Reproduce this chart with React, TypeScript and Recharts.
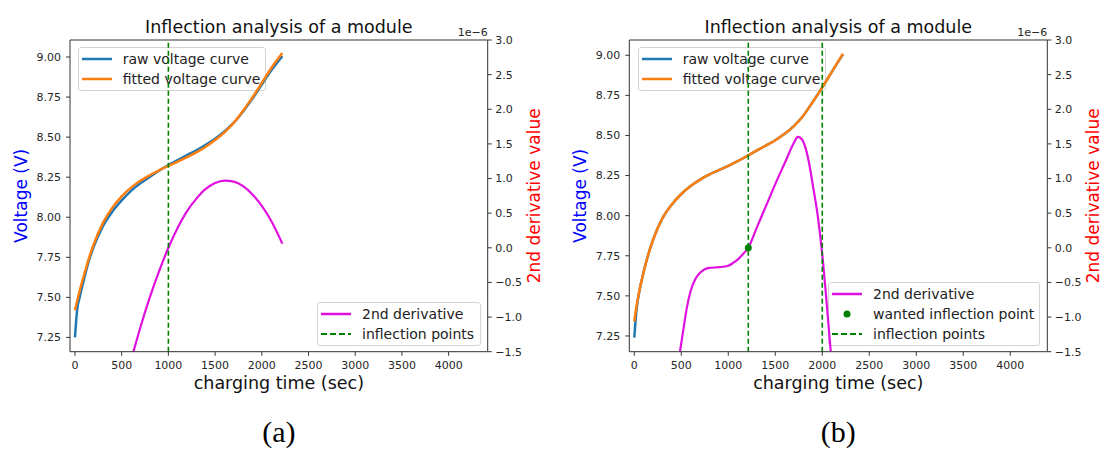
import { ComposedChart, Line, Scatter, XAxis, YAxis, ReferenceLine } from 'recharts';

// time grid (sec) shared by the voltage curves
const timeGrid = [0, 25, 50, 100, 150, 200, 300, 400, 500, 600, 700, 800, 900, 1000, 1100, 1200, 1300, 1400, 1500, 1600, 1700, 1800, 1900, 2000, 2100, 2220];

// panel (a)
const rawVoltageA = [7.25, 7.43, 7.5, 7.62, 7.73, 7.815, 7.945, 8.035, 8.105, 8.165, 8.212, 8.252, 8.29, 8.325, 8.357, 8.388, 8.418, 8.452, 8.49, 8.535, 8.59, 8.66, 8.74, 8.828, 8.915, 9.005];
const fitVoltageA = [7.42, 7.48, 7.54, 7.645, 7.745, 7.83, 7.965, 8.06, 8.13, 8.185, 8.228, 8.262, 8.292, 8.32, 8.347, 8.375, 8.405, 8.44, 8.482, 8.53, 8.59, 8.665, 8.748, 8.838, 8.93, 9.025];
const d2TimeA = [620, 700, 800, 900, 1000, 1100, 1200, 1300, 1400, 1500, 1600, 1700, 1800, 1900, 2000, 2100, 2220];
const d2ValueA = [-1.53, -1.15, -0.72, -0.34, 0.0, 0.29, 0.53, 0.71, 0.85, 0.935, 0.97, 0.955, 0.89, 0.77, 0.605, 0.39, 0.06]; // x 1e-6
const inflectionA = [1000];

// panel (b)
const rawVoltageB = [7.24, 7.42, 7.515, 7.65, 7.76, 7.85, 7.985, 8.07, 8.135, 8.185, 8.225, 8.257, 8.284, 8.31, 8.34, 8.372, 8.405, 8.437, 8.47, 8.51, 8.56, 8.625, 8.71, 8.8, 8.895, 9.005];
const fitVoltageB = [7.34, 7.44, 7.52, 7.65, 7.76, 7.85, 7.985, 8.07, 8.135, 8.185, 8.225, 8.257, 8.284, 8.31, 8.34, 8.372, 8.405, 8.437, 8.47, 8.51, 8.56, 8.625, 8.71, 8.8, 8.895, 9.01];
const d2TimeB = [486, 520, 560, 600, 650, 700, 750, 800, 900, 1000, 1050, 1100, 1150, 1213, 1300, 1400, 1500, 1600, 1700, 1740, 1780, 1820, 1860, 1900, 1950, 2000, 2050, 2090];
const d2ValueB = [-1.5, -1.2, -0.86, -0.62, -0.45, -0.36, -0.31, -0.29, -0.28, -0.26, -0.22, -0.17, -0.1, 0, 0.28, 0.6, 0.92, 1.22, 1.52, 1.6, 1.57, 1.45, 1.22, 0.9, 0.48, -0.1, -0.85, -1.5];
const inflectionB = [1213, 2000];
const wantedTimeB = [1213];
const wantedValueB = [0];

const xTicks = [0, 500, 1000, 1500, 2000, 2500, 3000, 3500, 4000];
const voltTicks = [7.25, 7.5, 7.75, 8, 8.25, 8.5, 8.75, 9];
const d2Ticks = [-1.5, -1, -0.5, 0, 0.5, 1, 1.5, 2, 2.5, 3];

const FONT = '"DejaVu Sans", sans-serif';
const AXIS = '#333';
const TICK = '#262626';
const BLUE = '#1f77b4';
const ORANGE = '#ff7f0e';
const MAGENTA = '#e010e0';
const GREEN = '#008000';

const zip = (ts: number[], vs: number[]) => ts.map((t, i) => ({ t, v: vs[i] }));

type LegendItem = { label: string; kind: 'line' | 'dash' | 'dot'; color: string };

const LegendBox = ({ x, y, width, items }: { x: number; y: number; width: number; items: LegendItem[] }) => (
  <div
    style={{
      position: 'absolute',
      left: x,
      top: y,
      width,
      boxSizing: 'border-box',
      padding: '1px 0 1px 3px',
      border: '1px solid #d4d4d4',
      borderRadius: 3,
      background: 'rgba(255,255,255,0.8)',
      fontFamily: FONT,
      fontSize: 14,
      color: '#222',
    }}
  >
    {items.map((it) => (
      <div key={it.label} style={{ display: 'flex', alignItems: 'center', height: 20, whiteSpace: 'nowrap' }}>
        <svg width={30} height={10} style={{ marginRight: 11 }}>
          {it.kind === 'dot' ? (
            <circle cx={15} cy={5} r={3.5} fill={it.color} />
          ) : (
            <line x1={0} x2={30} y1={5} y2={5} stroke={it.color} strokeWidth={it.kind === 'dash' ? 1.8 : 2.5} strokeDasharray={it.kind === 'dash' ? '6 3' : undefined} />
          )}
        </svg>
        <span>{it.label}</span>
      </div>
    ))}
  </div>
);

const upperItems: LegendItem[] = [
  { label: 'raw voltage curve', kind: 'line', color: BLUE },
  { label: 'fitted voltage curve', kind: 'line', color: ORANGE },
];
const lowerItemsA: LegendItem[] = [
  { label: '2nd derivative', kind: 'line', color: MAGENTA },
  { label: 'inflection points', kind: 'dash', color: GREEN },
];
const lowerItemsB: LegendItem[] = [
  { label: '2nd derivative', kind: 'line', color: MAGENTA },
  { label: 'wanted inflection point', kind: 'dot', color: GREEN },
  { label: 'inflection points', kind: 'dash', color: GREEN },
];

interface PanelProps {
  left: number;
  width: number;
  plotLeft: number;
  plotRight: number;
  xDomain: [number, number];
  vDomain: [number, number];
  raw: { t: number; v: number }[];
  fit: { t: number; v: number }[];
  d2: { t: number; v: number }[];
  inflections: number[];
  wanted?: { t: number; v: number }[];
  letter: string;
  lower: { x: number; y: number; width: number; items: LegendItem[] };
}

const Panel = ({ left, width, plotLeft, plotRight, xDomain, vDomain, raw, fit, d2, inflections, wanted, letter, lower }: PanelProps) => {
  const center = (plotLeft + plotRight) / 2;
  const tickStyle = { fill: TICK, fontSize: 11, fontFamily: FONT };
  return (
    <div style={{ position: 'absolute', left, top: 0, width, height: 450 }}>
      <LegendBox x={77.7} y={46.7} width={188} items={upperItems} />
      <LegendBox {...lower} />
      <div style={{ position: 'absolute', left: 0, top: 0 }}>
        <ComposedChart
          width={width}
          height={400}
          margin={{ top: 40, left: plotLeft - 60, right: width - plotRight - 55, bottom: 8.3 }}
        >
          <XAxis
            type="number"
            dataKey="t"
            domain={xDomain}
            ticks={xTicks}
            allowDataOverflow
            height={40}
            tickSize={4}
            tickMargin={5}
            axisLine={{ stroke: AXIS }}
            tickLine={{ stroke: AXIS }}
            tick={tickStyle}
            label={{ value: 'charging time (sec)', position: 'insideBottom', offset: 2.7, style: { fontSize: 17.5, fontFamily: FONT, fill: '#111' } }}
          />
          <YAxis
            yAxisId="v"
            type="number"
            domain={vDomain}
            ticks={voltTicks}
            allowDataOverflow
            width={60}
            tickSize={4}
            tickMargin={5}
            axisLine={{ stroke: AXIS }}
            tickLine={{ stroke: AXIS }}
            tick={tickStyle}
            tickFormatter={(v: number) => v.toFixed(2)}
            label={{ value: 'Voltage (V)', angle: -90, position: 'insideLeft', offset: 10.5, style: { textAnchor: 'middle', fontSize: 17, fontFamily: FONT, fill: '#0000ff' } }}
          />
          <YAxis
            yAxisId="d"
            orientation="right"
            type="number"
            domain={[-1.5, 3]}
            ticks={d2Ticks}
            allowDataOverflow
            width={55}
            tickSize={4}
            tickMargin={3.5}
            axisLine={{ stroke: AXIS }}
            tickLine={{ stroke: AXIS }}
            tick={tickStyle}
            tickFormatter={(v: number) => (v < 0 ? '\u2212' : '') + Math.abs(v).toFixed(1)}
            label={{ value: '2nd derivative value', angle: -90, position: 'insideRight', offset: 9, style: { textAnchor: 'middle', fontSize: 17, fontFamily: FONT, fill: '#ff0000' } }}
          />
          <ReferenceLine yAxisId="d" y={3} stroke={AXIS} />
          <Line yAxisId="v" data={raw} dataKey="v" type="monotone" stroke={BLUE} strokeWidth={2.5} dot={false} isAnimationActive={false} />
          <Line yAxisId="v" data={fit} dataKey="v" type="monotone" stroke={ORANGE} strokeWidth={2.5} dot={false} isAnimationActive={false} />
          <Line yAxisId="d" data={d2} dataKey="v" type="monotone" stroke={MAGENTA} strokeWidth={2.2} dot={false} isAnimationActive={false} />
          {inflections.map((x) => (
            <ReferenceLine key={x} yAxisId="d" x={x} stroke={GREEN} strokeWidth={1.6} strokeDasharray="5 3" />
          ))}
          {wanted && (
            <Scatter
              yAxisId="d"
              data={wanted}
              dataKey="v"
              isAnimationActive={false}
              shape={(p: any) => <circle cx={p.cx} cy={p.cy} r={3.5} fill={GREEN} />}
            />
          )}
        </ComposedChart>
      </div>
      <svg width={width} height={450} style={{ position: 'absolute', left: 0, top: 0, pointerEvents: 'none' }}>
        <text x={center} y={33.3} textAnchor="middle" fontFamily={FONT} fontSize={17.5} fill="#111">
          Inflection analysis of a module
        </text>
        <text x={plotRight} y={36} textAnchor="end" fontFamily={FONT} fontSize={11} fill={TICK}>
          1e{'\u2212'}6
        </text>
        <text x={center} y={442} textAnchor="middle" fontFamily='"Liberation Serif", "Times New Roman", serif' fontSize={30} fill="#000">
          {letter}
        </text>
      </svg>
    </div>
  );
};

export default function App() {
  return (
    <div style={{ position: 'absolute', left: 0, top: 0, width: 1105, height: 450, overflow: 'hidden', background: '#fff' }}>
      <Panel
        left={0}
        width={552}
        plotLeft={70}
        plotRight={487.7}
        xDomain={[-53, 4418]}
        vDomain={[7.161, 9.106]}
        raw={zip(timeGrid, rawVoltageA)}
        fit={zip(timeGrid, fitVoltageA)}
        d2={zip(d2TimeA, d2ValueA)}
        inflections={inflectionA}
        letter="(a)"
        lower={{ x: 317, y: 301.7, width: 164, items: lowerItemsA }}
      />
      <Panel
        left={560}
        width={545}
        plotLeft={69.3}
        plotRight={487.3}
        xDomain={[-53, 4394]}
        vDomain={[7.152, 9.095]}
        raw={zip(timeGrid, rawVoltageB)}
        fit={zip(timeGrid, fitVoltageB)}
        d2={zip(d2TimeB, d2ValueB)}
        inflections={inflectionB}
        wanted={zip(wantedTimeB, wantedValueB)}
        letter="(b)"
        lower={{ x: 268, y: 281.7, width: 212, items: lowerItemsB }}
      />
    </div>
  );
}
